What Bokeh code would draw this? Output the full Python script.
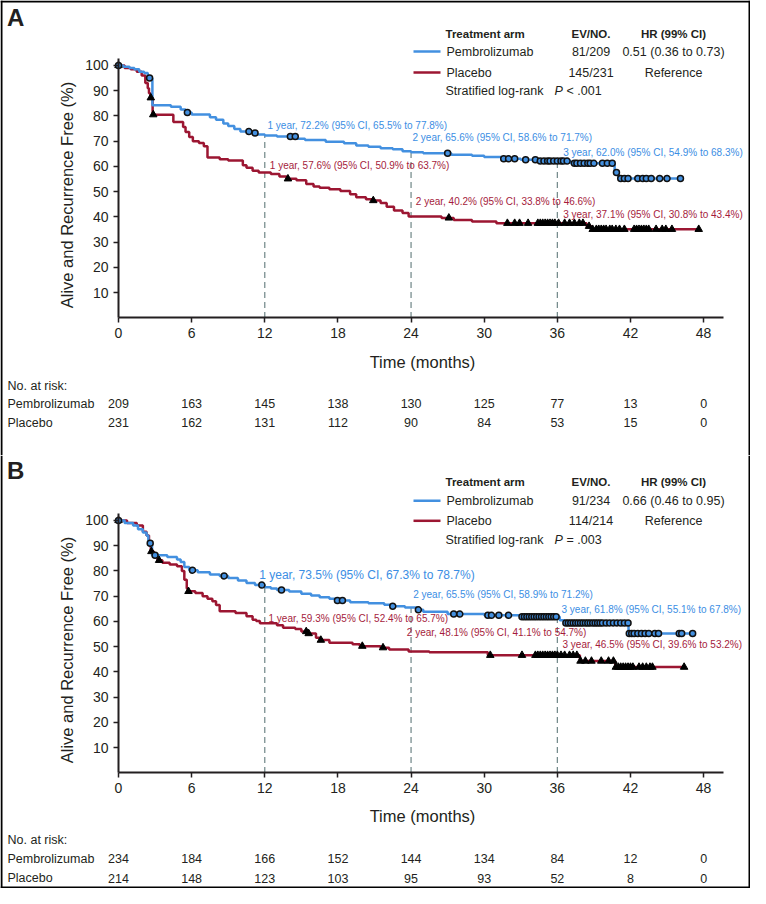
import numpy as np
from bokeh.plotting import figure
from bokeh.models import Range1d, FixedTicker, Span
from bokeh.layouts import column
from bokeh.core.properties import value
from bokeh.embed import file_html
from bokeh.resources import INLINE

# ---------------- data ----------------
month_ticks = [0, 6, 12, 18, 24, 30, 36, 42, 48]
pct_ticks = [10, 20, 30, 40, 50, 60, 70, 80, 90, 100]
landmark_months = [12, 24, 36]

# Panel A
a_pem_t = [0, 0.4, 0.9, 1.3, 1.7, 2.1, 2.4, 2.5, 2.78, 4.3, 5.1, 5.5, 6.0, 7.5, 8.0, 8.6, 9.0, 9.5, 10.0,
           10.9, 11.4, 12.0, 13.0, 14.6, 15.3, 17.0, 18.5, 19.5, 20.5, 21.5, 22.5, 23.3, 24.0, 25.0, 27.3,
           29.0, 30.0, 31.4, 33.0, 34.4, 37.1, 40.7, 41.0]
a_pem_s = [100, 99.5, 99, 98.5, 97.5, 97, 96, 95, 84.2, 83.6, 82.5, 81.3, 80.6, 79.5, 78.5, 77, 76, 74.8, 73.8,
           73.2, 72.6, 72.2, 71.8, 71.0, 70.5, 69.8, 69.2, 68.3, 67.8, 67.2, 66.8, 66.0, 65.6, 65.2, 64.6,
           64.2, 63.7, 63.0, 62.6, 62.1, 61.2, 57.6, 55.2]
a_pem_end = 46.3
a_pem_cens = [0, 2.55, 5.65, 10.7, 11.2, 14.1, 14.5, 27.0, 31.6, 32.0, 32.5, 33.4, 34.2, 34.6, 34.9, 35.2,
              35.4, 35.7, 36.0, 36.3, 36.5, 36.8, 37.4, 37.6, 37.9, 38.2, 38.5, 38.7, 39.0, 39.7, 40.1, 40.5,
              40.85, 41.2, 41.5, 41.8, 42.6, 43.0, 43.3, 43.7, 44.4, 45.0, 46.1]
a_pbo_t = [0, 0.5, 1.0, 1.5, 1.9, 2.2, 2.4, 2.5, 2.62, 2.8, 4.5, 5.3, 5.5, 5.8, 6.1, 6.6, 7.0, 7.3, 8.3, 9.0,
           10.2, 10.5, 11.0, 11.5, 12.5, 13.2, 13.8, 14.6, 15.4, 16.0, 16.5, 17.3, 18.2, 19.0, 19.5, 20.3,
           20.8, 21.5, 22.0, 22.6, 23.3, 23.8, 26.5, 27.5, 29.0, 31.0, 38.4, 38.8]
a_pbo_s = [100, 99, 98.5, 97.5, 96, 93, 91, 89, 87.2, 80.5, 77.6, 75.6, 73.6, 71.6, 70.0, 69.3, 68.0, 63.5,
           62.8, 62.3, 60.5, 59.5, 58.3, 57.6, 57.0, 56.0, 55.1, 54.5, 53.0, 52.0, 51.5, 51.0, 50.3, 49.0,
           47.8, 47.0, 46.5, 45.5, 44.0, 42.5, 41.5, 40.2, 39.6, 38.8, 38.2, 37.5, 36.3, 35.1]
a_pbo_end = 47.6
a_pbo_cens = [0, 2.65, 2.85, 13.9, 20.9, 27.1, 31.9, 32.5, 32.9, 33.6, 34.4, 34.6, 34.8, 35.0, 35.2, 35.4,
              35.6, 35.8, 36.1, 36.6, 37.0, 37.4, 37.8, 38.1, 38.6, 38.9, 39.2, 39.4, 39.6, 39.8, 40.0, 40.3,
              40.5, 40.8, 41.1, 41.5, 42.3, 42.5, 42.7, 42.9, 43.1, 43.3, 43.5, 44.1, 44.6, 44.9, 45.4, 47.6]
a_pem_landmarks = [72.2, 65.6, 62.0]
a_pem_notes = ["1 year, 72.2% (95% CI, 65.5% to 77.8%)", "2 year, 65.6% (95% CI, 58.6% to 71.7%)",
               "3 year, 62.0% (95% CI, 54.9% to 68.3%)"]
a_pbo_notes = ["1 year, 57.6% (95% CI, 50.9% to 63.7%)", "2 year, 40.2% (95% CI, 33.8% to 46.6%)",
               "3 year, 37.1% (95% CI, 30.8% to 43.4%)"]
a_pem_risk = [209, 163, 145, 138, 130, 125, 77, 13, 0]
a_pbo_risk = [231, 162, 131, 112, 90, 84, 53, 15, 0]
a_legend = [["Pembrolizumab", "81/209", "0.51 (0.36 to 0.73)"], ["Placebo", "145/231", "Reference"]]
a_pval = "< .001"

# Panel B
b_pem_t = [0, 0.5, 1.2, 1.6, 2.0, 2.3, 2.45, 2.75, 4.0, 4.8, 5.1, 5.4, 5.8, 6.5, 7.5, 8.3, 9.0, 9.8, 10.5,
           11.2, 12.0, 12.5, 13.0, 14.0, 15.0, 15.8, 16.5, 17.3, 17.8, 19.0, 20.5, 21.8, 22.3, 23.5, 24.5,
           25.0, 27.0, 30.0, 33.0, 36.2, 36.6, 41.84]
b_pem_s = [100, 99, 98, 96.5, 95.2, 94, 91.0, 86.2, 85.5, 84.5, 83.5, 81.5, 80.3, 79.5, 78.6, 78.0, 77.2,
           76.2, 75.2, 74.4, 73.5, 73.0, 72.4, 71.8, 71.0, 70.3, 69.6, 69.0, 68.3, 67.6, 67.2, 66.6, 66.0,
           65.5, 64.6, 63.8, 62.9, 62.4, 61.8, 60.5, 59.4, 55.2]
b_pem_end = 47.1
b_pem_cens = [0, 2.6, 3.0, 6.07, 8.67, 11.76, 13.37, 17.96, 18.37, 22.5, 24.6, 27.5, 28.0, 30.3, 30.6, 31.2,
              32.0, 33.1, 33.3, 33.5, 33.7, 33.9, 34.1, 34.3, 34.5, 34.7, 34.9, 35.1, 35.3, 35.5, 35.7, 35.9,
              36.7, 36.9, 37.1, 37.3, 37.5, 37.7, 37.9, 38.1, 38.3, 38.5, 38.7, 38.9, 39.1, 39.3, 39.5, 39.7,
              40.0, 40.3, 40.6, 40.9, 41.2, 41.5, 41.8, 41.9, 42.1, 42.3, 42.6, 42.9, 43.2, 43.5, 44.0, 44.3,
              46.0, 46.2, 47.1]
b_pbo_t = [0, 0.7, 1.5, 2.0, 2.3, 2.5, 2.65, 2.9, 3.2, 3.6, 4.2, 4.8, 5.2, 5.4, 5.6, 5.7, 6.3, 6.9, 7.3,
           7.7, 8.0, 8.3, 9.6, 10.5, 11.0, 11.3, 11.6, 13.0, 13.5, 14.5, 15.0, 15.5, 16.2, 16.55, 17.3,
           19.2, 19.8, 21.5, 22.2, 23.8, 25.5, 30.3, 37.85, 40.75]
b_pbo_s = [100, 99, 98, 95.5, 94, 91.6, 87.7, 85.5, 84.2, 83.2, 82.5, 81.8, 80.0, 76.5, 73.0, 71.9, 71.2,
           70.0, 69.0, 68.0, 66.5, 64.0, 63.3, 62.0, 60.7, 60.2, 59.3, 58.5, 57.5, 57.0, 56.0, 55.2, 53.5,
           52.6, 51.5, 51.0, 50.2, 49.6, 48.9, 48.1, 47.8, 46.6, 44.3, 41.9]
b_pbo_end = 46.4
b_pbo_cens = [0, 2.7, 3.33, 5.74, 15.4, 15.6, 16.6, 20.0, 21.7, 30.5, 33.1, 34.2, 34.4, 34.6, 34.8, 35.0,
              35.2, 35.4, 35.6, 35.8, 36.0, 36.3, 36.6, 37.0, 37.3, 37.6, 37.9, 38.3, 38.8, 39.6, 40.2, 40.6,
              40.8, 41.0, 41.2, 41.4, 41.6, 41.8, 42.0, 42.2, 42.7, 43.0, 43.3, 43.6, 43.8, 46.4]
b_pem_landmarks = [73.5, 65.5, 61.8]
b_pem_notes = ["1 year, 73.5% (95% CI, 67.3% to 78.7%)", "2 year, 65.5% (95% CI, 58.9% to 71.2%)",
               "3 year, 61.8% (95% CI, 55.1% to 67.8%)"]
b_pbo_notes = ["1 year, 59.3% (95% CI, 52.4% to 65.7%)", "2 year, 48.1% (95% CI, 41.1% to 54.7%)",
               "3 year, 46.5% (95% CI, 39.6% to 53.2%)"]
b_pem_risk = [234, 184, 166, 152, 144, 134, 84, 12, 0]
b_pbo_risk = [214, 148, 123, 103, 95, 93, 52, 8, 0]
b_legend = [["Pembrolizumab", "91/234", "0.66 (0.46 to 0.95)"], ["Placebo", "114/214", "Reference"]]
b_pval = "= .003"

# ---------------- styling / geometry ----------------
FONT = "Liberation Sans"
INK = "#231f20"
BLUE = "#4390e0"
RED = "#9c1632"
BLUE_TXT = "#3b8ee4"
RED_TXT = "#a51c3c"
DASH = "#6e8586"
W = 750
PX_PER_MONTH = 12.19
X0 = 118.0       # figure px of month 0
PX_PER_PCT = 2.525
Y0 = 317.4       # figure px (from top) of 0 %


def km_at(t, s, q):
    idx = np.searchsorted(np.asarray(t, float), np.asarray(q, float), side="right") - 1
    return np.asarray(s, float)[idx]


def make_panel(letter, top, height, pem_t, pem_s, pem_end, pem_cens, pbo_t, pbo_s, pbo_end, pbo_cens,
               landmarks, pem_notes, pbo_notes, pem_risk, pbo_risk, legend_rows, pval, lay):
    def X(page_x):
        return (page_x - 8 - X0) / PX_PER_MONTH

    def Y(page_y):
        return (Y0 - (page_y - top)) / PX_PER_PCT

    p = figure(width=W, height=height, output_backend="svg", toolbar_location=None,
               x_range=Range1d(X(8), X(8 + W)), y_range=Range1d(Y(top + height), Y(top)),
               min_border=0, outline_line_color=None, background_fill_color="white",
               border_fill_color="white")
    p.xgrid.visible = False
    p.ygrid.visible = False

    p.xaxis.fixed_location = 0
    p.yaxis.fixed_location = 0
    p.xaxis.bounds = (0, 49.6)
    p.yaxis.bounds = (0, 102.6)
    p.xaxis.ticker = FixedTicker(ticks=month_ticks)
    p.yaxis.ticker = FixedTicker(ticks=pct_ticks)
    for ax in (p.xaxis[0], p.yaxis[0]):
        ax.axis_line_width = 2
        ax.axis_line_color = INK
        ax.major_tick_line_color = INK
        ax.major_tick_line_width = 1.5
        ax.major_tick_out = 5
        ax.major_tick_in = 0
        ax.minor_tick_out = 0
        ax.minor_tick_in = 0
        ax.major_label_text_font = FONT
        ax.major_label_text_font_size = "14px"
        ax.major_label_text_color = INK
        ax.major_label_standoff = 5

    # landmark dashed lines
    p.segment(x0=landmark_months, y0=[0] * 3, x1=landmark_months, y1=landmarks,
              line_color=DASH, line_width=1.2, line_dash="6 4")

    # curves
    p.step(list(pbo_t) + [pbo_end], list(pbo_s) + [pbo_s[-1]], mode="after", line_color=RED, line_width=2.5)
    p.step(list(pem_t) + [pem_end], list(pem_s) + [pem_s[-1]], mode="after", line_color=BLUE, line_width=2.5)

    # censor marks
    p.scatter(pbo_cens, km_at(pbo_t, pbo_s, pbo_cens), marker="triangle", size=7.5,
              fill_color="black", line_color="black", line_width=1)
    p.scatter(pem_cens, km_at(pem_t, pem_s, pem_cens), marker="circle", size=6,
              fill_color=BLUE, line_color="#111111", line_width=1.5)

    def txt(x, y, s, size, color=INK, align="left", style="normal", angle=0.0):
        p.text(x=[x], y=[y], text=[s], text_font=value(FONT), text_font_size=size, text_color=color,
               text_align=align, text_baseline="middle", text_font_style=style, angle=angle)

    # panel letter
    txt(X(14.6), Y(lay["letter"]), letter, "24px", style="bold")

    # legend table
    hy = lay["legend"]
    txt(X(453), Y(hy[0]), "Treatment arm", "11.5px", style="bold")
    txt(X(598.5), Y(hy[0]), "EV/NO.", "11.5px", style="bold", align="center")
    txt(X(681), Y(hy[0]), "HR (99% CI)", "11.5px", style="bold", align="center")
    for row, yy, col in zip(legend_rows, hy[1:3], [BLUE, RED]):
        p.segment(x0=[X(421)], y0=[Y(yy)], x1=[X(448)], y1=[Y(yy)], line_color=col, line_width=2.5)
        txt(X(454), Y(yy), row[0], "12.5px")
        txt(X(598.5), Y(yy), row[1], "12.5px", align="center")
        txt(X(681), Y(yy), row[2], "12.5px", align="center")
    txt(X(453), Y(hy[3]), "Stratified log-rank", "12.5px")
    txt(X(562), Y(hy[3]), "P", "12.5px", style="italic")
    txt(X(574), Y(hy[3]), pval, "12.5px")

    # landmark annotations
    for (nx, ny, sz), s in zip(lay["pem_notes"], pem_notes):
        txt(X(nx), Y(ny), s, sz, color=BLUE_TXT)
    for (nx, ny, sz), s in zip(lay["pbo_notes"], pbo_notes):
        txt(X(nx), Y(ny), s, sz, color=RED_TXT)

    # axis titles
    txt(X(74.5), Y(lay["ylabel"]), "Alive and Recurrence Free (%)", "16.5px", align="center", angle=np.pi / 2)
    txt(X(430), Y(lay["xlabel"]), "Time (months)", "16.5px", align="center")

    # number at risk
    ry = lay["risk"]
    txt(X(15), Y(ry[0]), "No. at risk:", "12.5px")
    txt(X(15), Y(ry[1]), "Pembrolizumab", "12.5px")
    txt(X(15), Y(ry[2]), "Placebo", "12.5px")
    p.text(x=month_ticks, y=[Y(ry[1])] * len(month_ticks), text=[str(v) for v in pem_risk],
           text_font=value(FONT), text_font_size="12.5px", text_color=INK, text_align="center",
           text_baseline="middle")
    p.text(x=month_ticks, y=[Y(ry[2])] * len(month_ticks), text=[str(v) for v in pbo_risk],
           text_font=value(FONT), text_font_size="12.5px", text_color=INK, text_align="center",
           text_baseline="middle")

    # outer frame of the figure image
    p.add_layout(Span(location=X(9), dimension="height", line_color="black", line_width=2))
    p.add_layout(Span(location=X(757), dimension="height", line_color="black", line_width=2))
    if lay["frame"] == "top":
        p.add_layout(Span(location=Y(top + 1), dimension="width", line_color="black", line_width=2))
    else:
        p.add_layout(Span(location=Y(top + height - 1), dimension="width", line_color="black", line_width=2))
    return p


lay_a = dict(letter=25, legend=[41, 59, 80, 98],
             pem_notes=[(275, 133.3, "10px"), (420, 145, "10px"), (570.7, 160, "10px")],
             pbo_notes=[(277.3, 173.3, "10px"), (423.3, 209, "10px"), (570.7, 222.3, "10px")],
             ylabel=202.5, xlabel=369, risk=[393, 411, 430], frame="top")
lay_b = dict(letter=477.5, legend=[489.3, 508.3, 528.3, 547.3],
             pem_notes=[(266.7, 582.7, "12px"), (420.7, 602.3, "10px"), (569, 617.3, "10px")],
             pbo_notes=[(276, 626, "10px"), (414.3, 640, "10px"), (570, 652.3, "10px")],
             ylabel=657.5, xlabel=823.3, risk=[847.3, 866, 885.7], frame="bottom")

pA = make_panel("A", 8, 455, a_pem_t, a_pem_s, a_pem_end, a_pem_cens, a_pbo_t, a_pbo_s, a_pbo_end,
                a_pbo_cens, a_pem_landmarks, a_pem_notes, a_pbo_notes, a_pem_risk, a_pbo_risk,
                a_legend, a_pval, lay_a)
pB = make_panel("B", 463, 433, b_pem_t, b_pem_s, b_pem_end, b_pem_cens, b_pbo_t, b_pbo_s, b_pbo_end,
                b_pbo_cens, b_pem_landmarks, b_pem_notes, b_pbo_notes, b_pem_risk, b_pbo_risk,
                b_legend, b_pval, lay_b)

page = column(pA, pB, spacing=0)
open("out.html", "w").write(file_html(page, INLINE))
